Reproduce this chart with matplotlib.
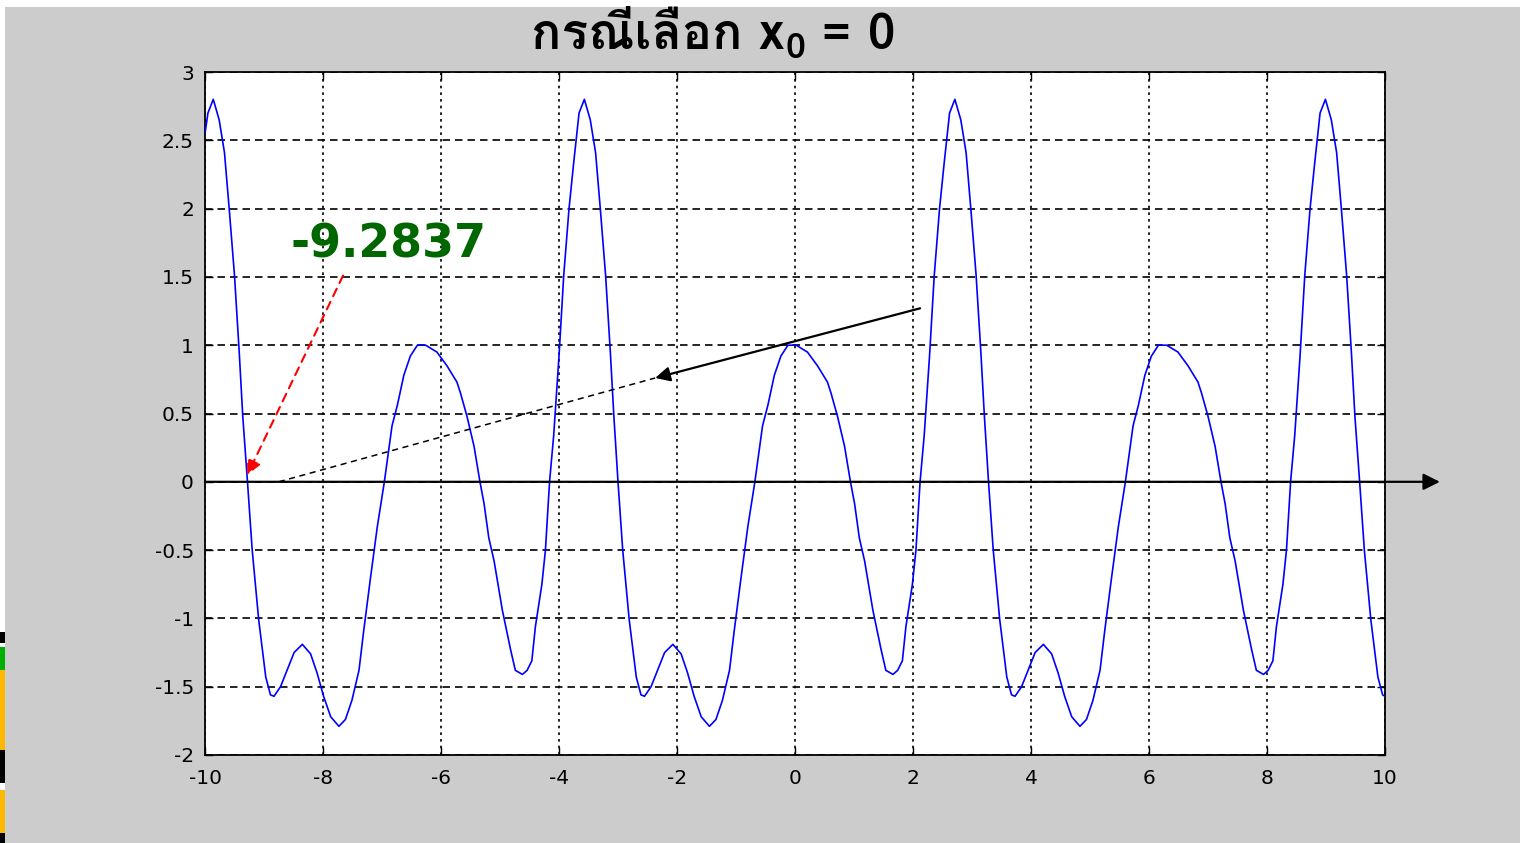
import numpy as np
import matplotlib
matplotlib.use('Agg')
import matplotlib.pyplot as plt
from matplotlib.patches import Rectangle

# sampled curve f(x) on [-10, 10]
x_vals = [-10.00, -9.95, -9.86, -9.76, -9.67, -9.59, -9.50, -9.42, -9.36,
          -9.28, -9.20, -9.09, -8.97, -8.89, -8.83, -8.72, -8.61, -8.49, -8.35,
          -8.21, -8.10, -7.99, -7.87, -7.73, -7.62, -7.51, -7.39, -7.31, -7.20,
          -7.08, -6.96, -6.83, -6.74, -6.63, -6.52, -6.40, -6.26, -6.07, -5.90,
          -5.73, -5.67, -5.56, -5.44, -5.34, -5.27, -5.19, -5.10, -4.96, -4.82,
          -4.74, -4.62, -4.54, -4.46, -4.40, -4.29, -4.23, -4.16, -4.09, -4.00,
          -3.92, -3.83, -3.75, -3.66, -3.57, -3.47, -3.38, -3.30, -3.21, -3.13,
          -3.07, -3.00, -2.92, -2.81, -2.69, -2.61, -2.55, -2.44, -2.33, -2.21,
          -2.07, -1.93, -1.82, -1.71, -1.59, -1.45, -1.34, -1.23, -1.11, -1.03,
          -0.92, -0.80, -0.68, -0.55, -0.46, -0.35, -0.24, -0.12, 0.02, 0.21,
          0.38, 0.55, 0.61, 0.72, 0.84, 0.94, 1.01, 1.09, 1.18, 1.32,
          1.46, 1.54, 1.66, 1.74, 1.82, 1.88, 1.99, 2.05, 2.12, 2.19,
          2.28, 2.36, 2.45, 2.53, 2.62, 2.71, 2.81, 2.90, 2.98, 3.07,
          3.15, 3.21, 3.28, 3.36, 3.47, 3.59, 3.67, 3.73, 3.84, 3.95,
          4.07, 4.21, 4.35, 4.46, 4.57, 4.69, 4.83, 4.94, 5.05, 5.17,
          5.25, 5.36, 5.48, 5.60, 5.73, 5.82, 5.93, 6.04, 6.16, 6.30,
          6.49, 6.66, 6.83, 6.89, 7.00, 7.12, 7.22, 7.29, 7.37, 7.46,
          7.60, 7.74, 7.82, 7.94, 8.02, 8.10, 8.16, 8.27, 8.33, 8.40,
          8.47, 8.56, 8.64, 8.73, 8.81, 8.90, 8.99, 9.09, 9.18, 9.26,
          9.35, 9.43, 9.49, 9.57, 9.65, 9.76, 9.88, 9.96, 10.00]
y_vals = [2.55, 2.70, 2.80, 2.65, 2.41, 2.00, 1.51, 0.95, 0.48,
          0.00, -0.50, -1.01, -1.43, -1.56, -1.57, -1.50, -1.38, -1.25, -1.19,
          -1.26, -1.40, -1.57, -1.72, -1.79, -1.74, -1.60, -1.38, -1.09, -0.72,
          -0.33, 0.00, 0.41, 0.56, 0.78, 0.92, 1.00, 1.00, 0.95, 0.85,
          0.73, 0.65, 0.48, 0.26, 0.00, -0.16, -0.41, -0.58, -0.94, -1.23,
          -1.38, -1.41, -1.38, -1.31, -1.06, -0.75, -0.50, 0.00, 0.34, 0.92,
          1.51, 2.00, 2.34, 2.70, 2.80, 2.65, 2.41, 2.00, 1.51, 0.95,
          0.48, 0.00, -0.50, -1.01, -1.43, -1.56, -1.57, -1.50, -1.38, -1.25,
          -1.19, -1.26, -1.40, -1.57, -1.72, -1.79, -1.74, -1.60, -1.38, -1.09,
          -0.72, -0.33, 0.00, 0.41, 0.56, 0.78, 0.92, 1.00, 1.00, 0.95,
          0.85, 0.73, 0.65, 0.48, 0.26, 0.00, -0.16, -0.41, -0.58, -0.94,
          -1.23, -1.38, -1.41, -1.38, -1.31, -1.06, -0.75, -0.50, 0.00, 0.34,
          0.92, 1.51, 2.00, 2.34, 2.70, 2.80, 2.65, 2.41, 2.00, 1.51,
          0.95, 0.48, 0.00, -0.50, -1.01, -1.43, -1.56, -1.57, -1.50, -1.38,
          -1.25, -1.19, -1.26, -1.40, -1.57, -1.72, -1.79, -1.74, -1.60, -1.38,
          -1.09, -0.72, -0.33, 0.00, 0.41, 0.56, 0.78, 0.92, 1.00, 1.00,
          0.95, 0.85, 0.73, 0.65, 0.48, 0.26, 0.00, -0.16, -0.41, -0.58,
          -0.94, -1.23, -1.38, -1.41, -1.38, -1.31, -1.06, -0.75, -0.50, 0.00,
          0.34, 0.92, 1.51, 2.00, 2.34, 2.70, 2.80, 2.65, 2.41, 2.00,
          1.51, 0.95, 0.48, 0.00, -0.50, -1.01, -1.43, -1.56, -1.57]

root_x = -9.2837
root_label = '-9.2837'
label_pos = (-8.55, 1.73)
red_arrow_start = (-7.66, 1.51)
tangent_start = (-8.75, 0.0)
tangent_end = (-2.37, 0.76)
black_arrow_start = (2.12, 1.27)

title_main = 'กรณีเลือก x'
title_sub = '0'
title_tail = ' = 0'
x_ticks = [-10, -8, -6, -4, -2, 0, 2, 4, 6, 8, 10]
y_ticks = [-2, -1.5, -1, -0.5, 0, 0.5, 1, 1.5, 2, 2.5, 3]

title_family = ['Loma', 'Noto Sans Thai', 'DejaVu Sans']

fig = plt.figure(figsize=(15.2, 8.43), dpi=100, facecolor='white')
fig.patches.append(Rectangle((5 / 1520, 0), 1, 1 - 7 / 843, transform=fig.transFigure,
                             facecolor='#cccccc', edgecolor='none', zorder=-10))
# bits of clip art poking in at the left edge
for y0, h, c in [(843 - 643, 11, 'black'), (843 - 670, 23, '#00b000'),
                 (843 - 750, 80, '#ffb800'), (843 - 783, 33, 'black'),
                 (843 - 833, 43, '#ffb800'), (0, 10, 'black')]:
    fig.patches.append(Rectangle((0, y0 / 843), 5 / 1520, h / 843, transform=fig.transFigure,
                                 facecolor=c, edgecolor='none'))

ax = fig.add_axes([205 / 1520, 88 / 843, 1180 / 1520, 683 / 843])
ax.set_facecolor('white')

ax.plot(x_vals, y_vals, color='#0000ff', lw=1.2, zorder=3)

ax.set_xlim(-10, 10)
ax.set_ylim(-2, 3)
ax.set_xticks(x_ticks)
ax.set_xticklabels([str(t) for t in x_ticks])
ax.set_yticks(y_ticks)
ax.set_yticklabels([('%g' % t) for t in y_ticks])
ax.tick_params(direction='in', length=6, width=1, top=True, right=True,
               labelsize=14.5, colors='black', pad=8)
ax.tick_params(axis='x', pad=10)

ax.xaxis.grid(True, color='black', linestyle=(0, (1.6, 2.4)), lw=1.2)
ax.yaxis.grid(True, color='black', linestyle=(0, (4.5, 3)), lw=1.2)
ax.set_axisbelow(True)
for s in ax.spines.values():
    s.set_linewidth(1.3)

# x axis line with an arrow running past the frame
ax.annotate('', xy=(10.93, 0), xytext=(-10, 0), xycoords='data',
            arrowprops=dict(arrowstyle='-|>', color='black', lw=1.6,
                            mutation_scale=25, shrinkA=0, shrinkB=0),
            annotation_clip=False, zorder=4)

# root label and its red pointer
ax.text(label_pos[0], label_pos[1], root_label, color='#006600', fontsize=33,
        fontweight='bold', ha='left', va='center', zorder=6)
ax.annotate('', xy=(root_x, 0.05), xytext=red_arrow_start,
            arrowprops=dict(arrowstyle='-|>', color='red', lw=1.5, ls=(0, (4, 3)),
                            mutation_scale=22, shrinkA=0, shrinkB=0), zorder=6)

# tangent line and the arrow pointing at it
ax.plot([tangent_start[0], tangent_end[0]], [tangent_start[1], tangent_end[1]],
        color='black', lw=1.1, ls=(0, (4, 3)), zorder=5)
ax.annotate('', xy=tangent_end, xytext=black_arrow_start,
            arrowprops=dict(arrowstyle='-|>', color='black', lw=1.6,
                            mutation_scale=22, shrinkA=0, shrinkB=0), zorder=6)

# title built from three pieces so the subscript can sit low
title_y = 1 - 49 / 843
t1 = fig.text(0, title_y, title_main, ha='left', va='baseline', fontsize=36,
              fontweight='bold', family=title_family)
renderer = fig.canvas.get_renderer()
w1 = t1.get_window_extent(renderer).width
t2 = fig.text(0, title_y, title_sub, ha='left', va='baseline', fontsize=26,
              fontweight='bold', family=title_family)
w2 = t2.get_window_extent(renderer).width
t3 = fig.text(0, title_y, title_tail, ha='left', va='baseline', fontsize=36,
              fontweight='bold', family=title_family)
w3 = t3.get_window_extent(renderer).width
left = 713 - (w1 + w2 + w3) / 2
t1.set_x(left / 1520)
t2.set_x((left + w1 + 1) / 1520)
t2.set_y(title_y - 9 / 843)
t3.set_x((left + w1 + w2 + 1) / 1520)

fig.savefig('out.png', dpi=100, facecolor=fig.get_facecolor())
